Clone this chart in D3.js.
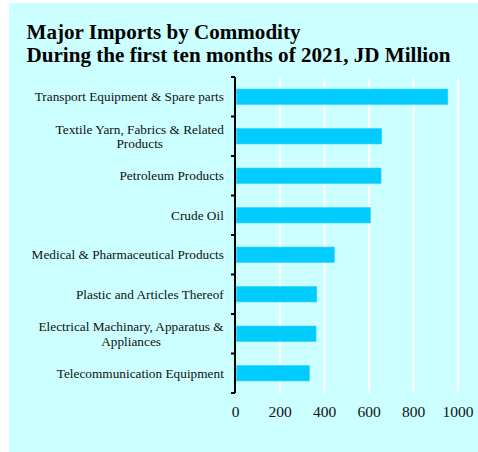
<!DOCTYPE html>
<html>
<head>
<meta charset="utf-8">
<script src="https://cdn.jsdelivr.net/npm/d3@7"></script>
<style>
  html, body { margin: 0; padding: 0; background: #ffffff; }
  svg { display: block; }
</style>
</head>
<body>
<svg id="chart" width="478" height="452"></svg>
<script>
// Major imports by commodity, first ten months of 2021 (JD million)
const categories = [
  ["Transport Equipment & Spare parts"],
  ["Textile Yarn, Fabrics & Related", "Products"],
  ["Petroleum Products"],
  ["Crude Oil"],
  ["Medical & Pharmaceutical Products"],
  ["Plastic and Articles Thereof"],
  ["Electrical Machinary, Apparatus &", "Appliances"],
  ["Telecommunication Equipment"]
];
const values = [954, 657, 654, 606, 444, 365, 362, 332];
const xTicks = [0, 200, 400, 600, 800, 1000];
const titleLines = [
  "Major Imports by Commodity",
  "During the first ten months of 2021, JD Million"
];
const titleWidths = [274, 424];

const svg = d3.select("#chart");
const serif = "'Liberation Serif', 'Times New Roman', serif";

// card background
svg.append("rect")
  .attr("x", 9).attr("y", 3)
  .attr("width", 469).attr("height", 449)
  .attr("fill", "#ccffff");

// title (bold serif, fitted to its set width)
svg.append("g")
  .selectAll("text")
  .data(titleLines)
  .join("text")
  .attr("x", 26.5)
  .attr("y", (d, i) => 38.6 + i * 23.2)
  .attr("font-family", serif)
  .attr("font-weight", "bold")
  .attr("font-size", 20)
  .attr("textLength", (d, i) => titleWidths[i])
  .attr("lengthAdjust", "spacingAndGlyphs")
  .attr("fill", "#000")
  .text(d => d);

const plot = { left: 235.5, right: 458, top: 77, bottom: 393 };

const x = d3.scaleLinear().domain([0, 1000]).range([plot.left, plot.right]);
const keys = categories.map((d, i) => i);
const y = d3.scaleBand().domain(keys).range([plot.top, plot.bottom]).paddingInner(0.61).paddingOuter(0.305);
const band = d3.scaleBand().domain(keys).range([plot.top, plot.bottom]);

// vertical gridlines
svg.append("g")
  .selectAll("line")
  .data(xTicks.filter(t => t > 0))
  .join("line")
  .attr("x1", d => x(d)).attr("x2", d => x(d))
  .attr("y1", plot.top).attr("y2", plot.bottom)
  .attr("stroke", "#ffffff")
  .attr("stroke-width", 2);

// bars
svg.append("g")
  .selectAll("rect")
  .data(values)
  .join("rect")
  .attr("x", x(0) + 1)
  .attr("y", (d, i) => y(i))
  .attr("width", d => x(d) - x(0) - 1)
  .attr("height", y.bandwidth())
  .attr("fill", "#00ccff")
  .attr("stroke", "#33ccff")
  .attr("stroke-width", 0.6);

// category axis with ticks at band edges
const axisG = svg.append("g");
const edges = keys.map(k => band(k)).concat([plot.bottom]);
axisG.append("line")
  .attr("x1", plot.left - 0.5).attr("x2", plot.left - 0.5)
  .attr("y1", plot.top).attr("y2", plot.bottom)
  .attr("stroke", "#000").attr("stroke-width", 2);
axisG.selectAll("line.tick")
  .data(edges)
  .join("line")
  .attr("class", "tick")
  .attr("x1", plot.left - 4.5).attr("x2", plot.left - 0.5)
  .attr("y1", d => d).attr("y2", d => d)
  .attr("stroke", "#000").attr("stroke-width", 2);

// category labels
const labels = svg.append("g")
  .selectAll("text")
  .data(categories)
  .join("text")
  .attr("font-family", serif)
  .attr("font-size", 13.3)
  .attr("fill", "#111")
  .attr("text-anchor", "middle");
labels.each(function (lines, i) {
  const cy = band(i) + band.bandwidth() / 2;
  const t = d3.select(this);
  const lh = 14.5;
  const y0 = cy - (lines.length - 1) * lh / 2 + 4.5;
  lines.forEach((ln, j) => {
    t.append("tspan")
      .attr("x", 0)
      .attr("y", y0 + j * lh)
      .text(ln);
  });
});
// right-align each label block at the axis, centring wrapped lines within it
labels.each(function () {
  const t = d3.select(this);
  const w = this.getBBox().width;
  t.attr("transform", `translate(${224 - w / 2},0)`);
});

// value axis labels
svg.append("g")
  .selectAll("text")
  .data(xTicks)
  .join("text")
  .attr("x", d => x(d))
  .attr("y", 417)
  .attr("text-anchor", "middle")
  .attr("font-family", serif)
  .attr("font-size", 15.5)
  .attr("fill", "#111")
  .text(d => d);
</script>
</body>
</html>
